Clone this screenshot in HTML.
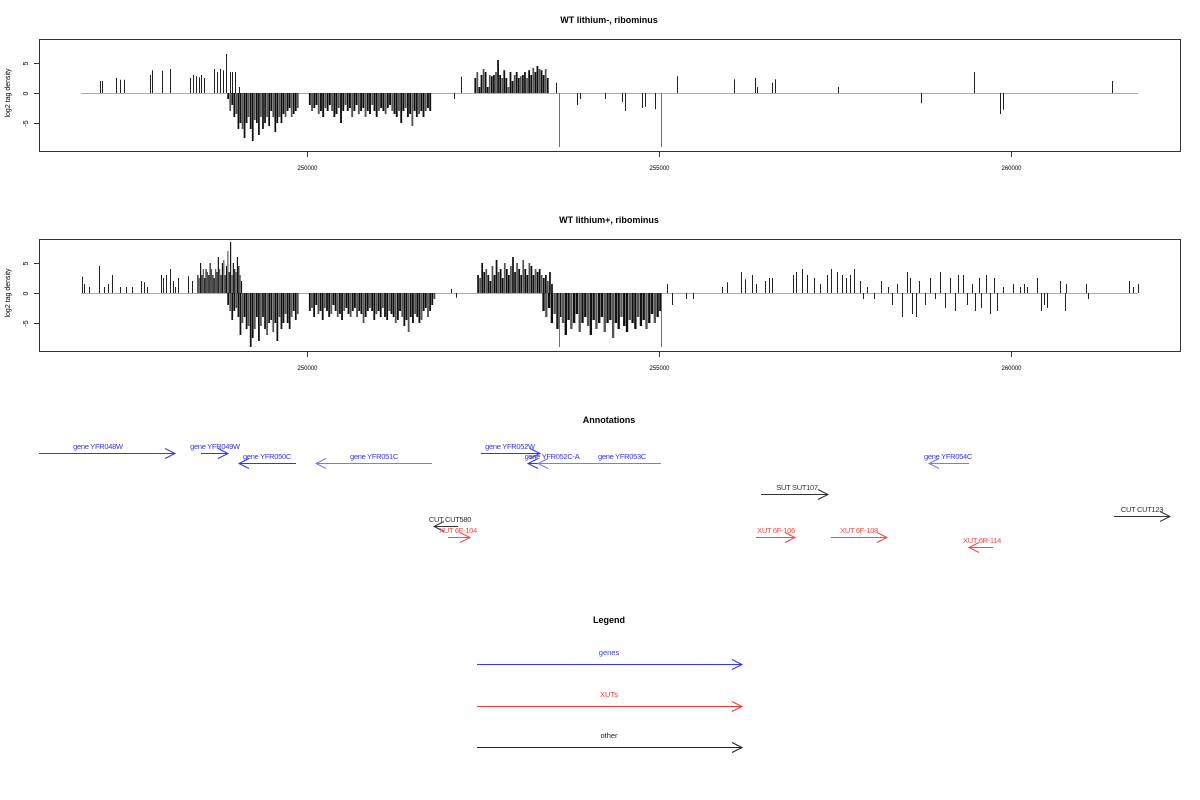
<!DOCTYPE html>
<html><head><meta charset="utf-8"><style>
html,body{margin:0;padding:0;background:#fff;width:1200px;height:800px;overflow:hidden}
svg{display:block;font-family:"Liberation Sans",sans-serif}
</style></head><body>
<svg id="chart" width="1200" height="800"></svg>
<script>
// ---- data (genomic coordinates, log2 tag density) ----
const xTicks = [250000, 255000, 260000];
const yTicks = [-5, 0, 5];
const dataStart = 246790, dataEnd = 261800;
// panel 1: sparse bars [coord, value]
const p1Sparse = [[247060,2],[247090,2],[247290,2.5],[247340,2.2],[247400,2.2],[247770,3],[247800,3.8],[247940,3.7],[248060,4],
[248340,2.5],[248380,3],[248420,2.8],[248460,2.6],[248500,3],[248540,2.5],[248680,4],[248720,3.5],[248770,4],[248800,3.8],[248850,6.5],[248900,3.5],[248930,3.5],[248980,3.5],[249030,1],
[252090,-1],[252190,2.7],[253540,1.7],[253840,-2],[253880,-1],[254240,-1],[254470,-1.5],[254520,-3],[254760,-2.5],[254800,-2.3],[254950,-2.7],
[255250,2.8],[256060,2.3],[256360,2.5],[256390,1],[256610,1.7],[256650,2.3],[257540,1],[258720,-1.7],[259480,3.5],[259850,-3.5],[259880,-2.8],[261440,2]];
const p1Red = [[253580,-9],[255030,-9]];
const p1NegA = [-1,-3,-2,-4,-3.5,-6,-5,-6,-7.5,-5,-4,-6,-8,-4.5,-5,-7,-4,-6,-5,-4,-5.5,-3,-4,-6.5,-5,-4,-5,-3.5,-4,-3,-2.5,-4,-3.5,-3,-2.5];
const p1NegB = [-2,-3,-2.5,-2,-3.5,-3,-4,-2.5,-3,-2,-3,-4,-3.5,-2.5,-5,-3,-2,-3,-2.5,-4,-3,-2,-3.5,-3,-2.5,-4,-3,-3.5,-2,-3,-4,-3,-2.5,-3,-3.5,-2.5,-2,-3,-3.5,-4,-3,-5,-3,-2.5,-4,-3.5,-5.5,-3,-4,-3.5,-3,-4,-3,-2.5,-3];
const p1PosA = [2.5,3.5,1,3,4,3.5,1,3,2.8,3,3.5,5.5,3,2.5,3.8,2.5,1,3.5,2,3,3.5,2.5,2.8,3,3.5,2.5,3.8,3,4.2,3.5,4.5,4,3.8,3,4,2.5];
// panel 2
const p2Sparse = [[246810,2.7],[246830,1.5],[246900,1],[247050,4.5],[247120,1],[247180,1.5],[247230,3],[247350,1],[247430,1],[247510,1],[247640,2],[247690,1.8],[247730,1],[247920,3],[247960,2.5],[248000,3],[248050,4],[248100,2],[248130,1],[248170,2.5],[248310,2.8],[248360,2],
[252050,0.7],[252120,-0.8],[255110,1.5],[255180,-2],[255380,-1],[255490,-1],[255900,1],[255960,1.8],[256170,3.5],[256220,2.3],[256320,3],[256380,1.5],[256500,2],[256560,2.5],[256610,2.5],
[256900,3],[256950,3.5],[257030,4],[257100,3],[257200,2.5],[257280,1.5],[257390,3],[257450,4],[257530,3.5],[257600,3],[257650,2.5],[257710,3],[257770,4],[257850,2],[257900,-1],[257950,1],[258050,-1],[258150,2],[258250,1],[258310,-2],[258380,1.5],[258450,-4],[258520,3.5],[258570,2.5],[258600,-3.5],[258650,-4],[258700,2],[258780,-2],[258850,2.5],[258920,-1],[258990,3.5],[259060,-2.5],[259130,2.5],[259200,-3],[259250,3],[259320,3],[259380,-2],[259450,1.5],[259490,-3],[259540,2.5],[259580,-2.5],[259640,3],[259700,-3.5],[259760,2.5],[259800,-3],[259880,1],[260030,1.5],[260130,1],[260190,1.5],[260230,1],[260370,2.5],[260420,-3],[260470,-2],[260510,-2.5],[260700,2],[260760,-3],[260780,1.5],[261060,1.5],[261090,-1],[261680,2],[261730,1],[261800,1.5]];
const p2Red = [[253580,-9],[255030,-9]];
const p2PosA = [3,2.5,5,3,4,2.5,4,3.5,3,5,4,3,2.5,4,3.5,6,4,3,5,5.5,3,4.5,7,3.5,8.5,3,5,4,3.5,6,4.5,3,2];
const p2NegA = [-2,-3,-4.5,-3,-2.5,-4,-7,-5,-4,-6,-5.5,-9,-7.5,-6,-4,-8,-5.5,-4,-6,-7,-5,-4.5,-6.5,-5,-8,-4,-6,-5,-3.5,-5,-6,-4,-3,-4.5,-3.5];
const p2NegB = [-3,-2.5,-4,-2,-3.5,-3,-4.5,-2.5,-3,-4,-3.5,-2,-3,-4,-3.5,-4.5,-3,-2.5,-3.5,-4,-3,-2.5,-4,-3,-3.5,-5,-4,-3,-2.5,-3,-4.5,-3.5,-3,-4,-2.5,-4,-4.5,-3,-3.5,-4,-5,-4.5,-3,-4,-5.5,-4.5,-6.5,-4,-5,-3.5,-4,-5,-4.5,-3,-2.5,-4,-3,-2,-1];
const p2PosB = [3,2.5,5,3.5,4,3,2,4.5,3,5.5,3.5,4,2.5,5,4,3,4.5,6,3.5,5,4,3,5.5,4,3,5,4.5,3,4,3.5,4,3,2.5,3,2,3.5,1.5];
const p2NegC = [-3,-4,-2.5,-5,-3.5,-6,-4,-5,-7,-4.5,-6,-5,-3.5,-6.5,-5,-4,-5.5,-7,-4.5,-6,-5,-4,-6.5,-5,-4.5,-7.5,-5,-6,-4,-5.5,-6.5,-4.5,-5,-6,-4,-5.5,-4.5,-6,-5,-3.5,-5,-4,-3];

// ---- drawing ----
const svg = document.getElementById('chart');
const NS = 'http://www.w3.org/2000/svg';
function mk(tag, attrs, parent){const e=document.createElementNS(NS,tag);for(const k in attrs)e.setAttribute(k,attrs[k]);(parent||svg).appendChild(e);return e;}
const xs = v => 307 + (v - 250000) * 0.0704;

function panel(top, title, sparse, dense, red, tag){
  const g = mk('g', {});
  
  
  const y0 = top + 54, ys = v => y0 - v*6;
  const t = mk('text', {x:609, y:top-16, 'font-size':9, 'font-weight':'bold', 'text-anchor':'middle'}, g);
  t.textContent = title;
  
  
  const f = mk('rect', {x:39.5, y:top+0.5, width:1141, height:112, fill:'none', stroke:'#333'}, g);
  
  
  const base = mk('line', {x1:xs(dataStart), x2:xs(dataEnd), y1:y0+0.5, y2:y0+0.5, stroke:'#aaa'}, g);
  
  
  sparse.forEach(p => {
    const x = Math.round(xs(p[0])) + 0.5;
    const l = mk('line', {x1:x, x2:x, y1:y0, y2:ys(p[1]), stroke:'#222', 'stroke-width':1}, g);
    
    
  });
  dense.forEach(d => {
    const a = d[0], b = d[1], vals = d[2];
    const sp = (xs(b) - xs(a)) / (vals.length - 1);
    vals.forEach((v, i) => {
      const x = xs(a + (b - a) * i / (vals.length - 1));
      const l = mk('line', {x1:x, x2:x, y1:y0, y2:ys(v), stroke:(i%3===1?'#555':'#111'), 'stroke-width':Math.max(1, sp*0.85)}, g);
      
      
    });
  });
  red.forEach(p => {
    const x = Math.round(xs(p[0])) + 0.5;
    const l = mk('line', {x1:x, x2:x, y1:y0, y2:ys(p[1]), stroke:'#f33', 'stroke-width':1}, g);
    
    
  });
  xTicks.forEach(v => {
    const x = Math.round(xs(v)) + 0.5;
    mk('line', {x1:x, x2:x, y1:top+112, y2:top+118, stroke:'#333'}, g);
    const tl = mk('text', {x:x, y:top+131, 'font-size':6, 'text-anchor':'middle'}, g);
    tl.textContent = v;
    
    
  });
  yTicks.forEach(v => {
    const y = ys(v) + 0.5;
    mk('line', {x1:34, x2:39, y1:y, y2:y, stroke:'#333'}, g);
    const tl = mk('text', {x:28, y:y, 'font-size':7, 'text-anchor':'middle', transform:'rotate(-90 28 '+y+')'}, g);
    tl.textContent = v;
    
    
  });
  const yt = mk('text', {x:10, y:y0, 'font-size':7, 'text-anchor':'middle', transform:'rotate(-90 10 '+y0+')'}, g);
  yt.textContent = 'log2 tag density';
  
  
}

panel(39, 'WT lithium-, ribominus', p1Sparse,
  [[248880,249870,p1NegA],[250040,251750,p1NegB],[252390,253420,p1PosA]], p1Red, 'panel-lithium-minus');
panel(239, 'WT lithium+, ribominus', p2Sparse,
  [[248880,249870,p2NegA],[248450,249070,p2PosA],[250040,251810,p2NegB],[252430,253480,p2PosB],[253360,255020,p2NegC]], p2Red, 'panel-lithium-plus');

// ---- annotations ----
const annTitle = mk('text', {x:609, y:423, 'font-size':9, 'font-weight':'bold', 'text-anchor':'middle'});
annTitle.textContent = 'Annotations';


// [label, x1, x2, y, direction, color, labelX]
const features = [
 ['gene YFR048W',39,175,453,1,'#33f',98],
 ['gene YFR049W',201,228,453,1,'#33f',215],
 ['gene YFR050C',239,296,463,-1,'#33f',267],
 ['gene YFR051C',316,432,463,-1,'#77f',374],
 ['gene YFR052W',481,540,453,1,'#33f',510],
 ['gene YFR052C-A',528,546,463,-1,'#33f',552],
 ['gene YFR053C',538,661,463,-1,'#77f',622],
 ['gene YFR054C',929,969,463,-1,'#77f',948],
 ['SUT SUT107',761,828,494,1,'#333',797],
 ['CUT CUT580',434,458,526,-1,'#333',450],
 ['XUT 6F-104',448,470,537,1,'#f44',458],
 ['XUT 6F-106',756,795,537,1,'#f44',776],
 ['XUT 6F-108',831,887,537,1,'#f44',859],
 ['XUT 6R-114',969,993,547,-1,'#f44',982],
 ['CUT CUT123',1114,1170,516,1,'#333',1142]
];
function arrow(x1,x2,y,dir,color,parent){
  mk('line',{x1:x1,x2:x2,y1:y+0.5,y2:y+0.5,stroke:color},parent);
  const tip = dir>0 ? x2 : x1, b = tip - dir*10;
  mk('polyline',{points:b+','+(y-4.5)+' '+tip+','+(y+0.5)+' '+b+','+(y+5.5),fill:'none',stroke:color},parent);
}
features.forEach(f => {
  const g = mk('g', {});
  
  
  arrow(f[1],f[2],f[3],f[4],f[5],g);
  const t = mk('text',{x:f[6],y:f[3]-4,'font-size':7.5,'text-anchor':'middle',fill:f[5]==='#77f'?'#33f':f[5],'letter-spacing':'-0.3'},g);
  t.textContent = f[0];
});

// ---- legend ----
const legTitle = mk('text', {x:609, y:623, 'font-size':9, 'font-weight':'bold', 'text-anchor':'middle'});
legTitle.textContent = 'Legend';


const legendItems = [['genes','#33f',664],['XUTs','#f33',706],['other','#222',747]];
legendItems.forEach(l => {
  const g = mk('g', {});
  
  
  arrow(477,742,l[2],1,l[1],g);
  const t = mk('text',{x:609,y:l[2]-9,'font-size':7.5,'text-anchor':'middle',fill:l[1]},g);
  t.textContent = l[0];
});
</script>
</body></html>
